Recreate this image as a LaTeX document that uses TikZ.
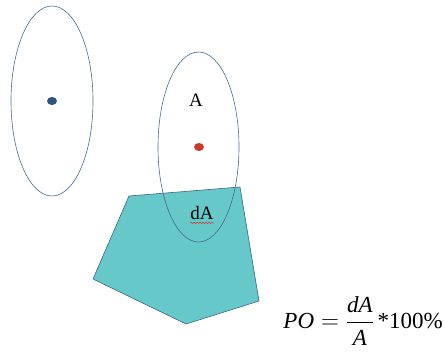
\documentclass[tikz,border=0pt]{standalone}
\usepackage{fontspec}
\setmainfont{Liberation Serif}
\usetikzlibrary{decorations.pathmorphing}
\definecolor{rimblue}{HTML}{4A6A90}
\definecolor{dotblue}{HTML}{2E5580}
\definecolor{dotred}{HTML}{CC3A2C}
\definecolor{patchteal}{HTML}{66C8C9}
\definecolor{patchedge}{HTML}{3E6585}
\tikzset{
  rim/.style={draw=rimblue, semithick},
  patch/.style={fill=patchteal, draw=patchedge, semithick},
  lbl/.style={font=\fontsize{19}{21}\selectfont, inner sep=0pt},
}
\begin{document}
\begin{tikzpicture}[x=1pt, y=-1pt]
  \useasboundingbox (0,0) rectangle (444,353);
  % polygon (the patch)
  \draw[patch] (129,196) -- (240,187) -- (259,301) -- (186,324) -- (93,279) -- cycle;
  % ellipses
  \draw[rim] (52,101) ellipse [x radius=41pt, y radius=95pt];
  \draw[rim] (198.5,147) ellipse [x radius=40.5pt, y radius=95pt];
  % centres
  \fill[dotblue] (52,101) ellipse [x radius=5pt, y radius=4pt];
  \fill[dotred] (199,147) ellipse [x radius=5pt, y radius=4pt];
  % labels
  \node[lbl] (area) at (196,100) {A};
  \node[lbl] (darea) at (202,213) {dA};
  \draw[dotred, decorate, decoration={snake, amplitude=0.8pt, segment length=3pt}]
    (darea.south west) ++(0,3) -- ++(24,0);
  % formula
  \node[inner sep=0pt, anchor=east, font=\fontsize{23}{25}\selectfont] (po) at (443,321)
    {$\displaystyle \textit{PO} = \frac{\textit{dA}}{\textit{A}}$\,*100\%};
\end{tikzpicture}
\end{document}
